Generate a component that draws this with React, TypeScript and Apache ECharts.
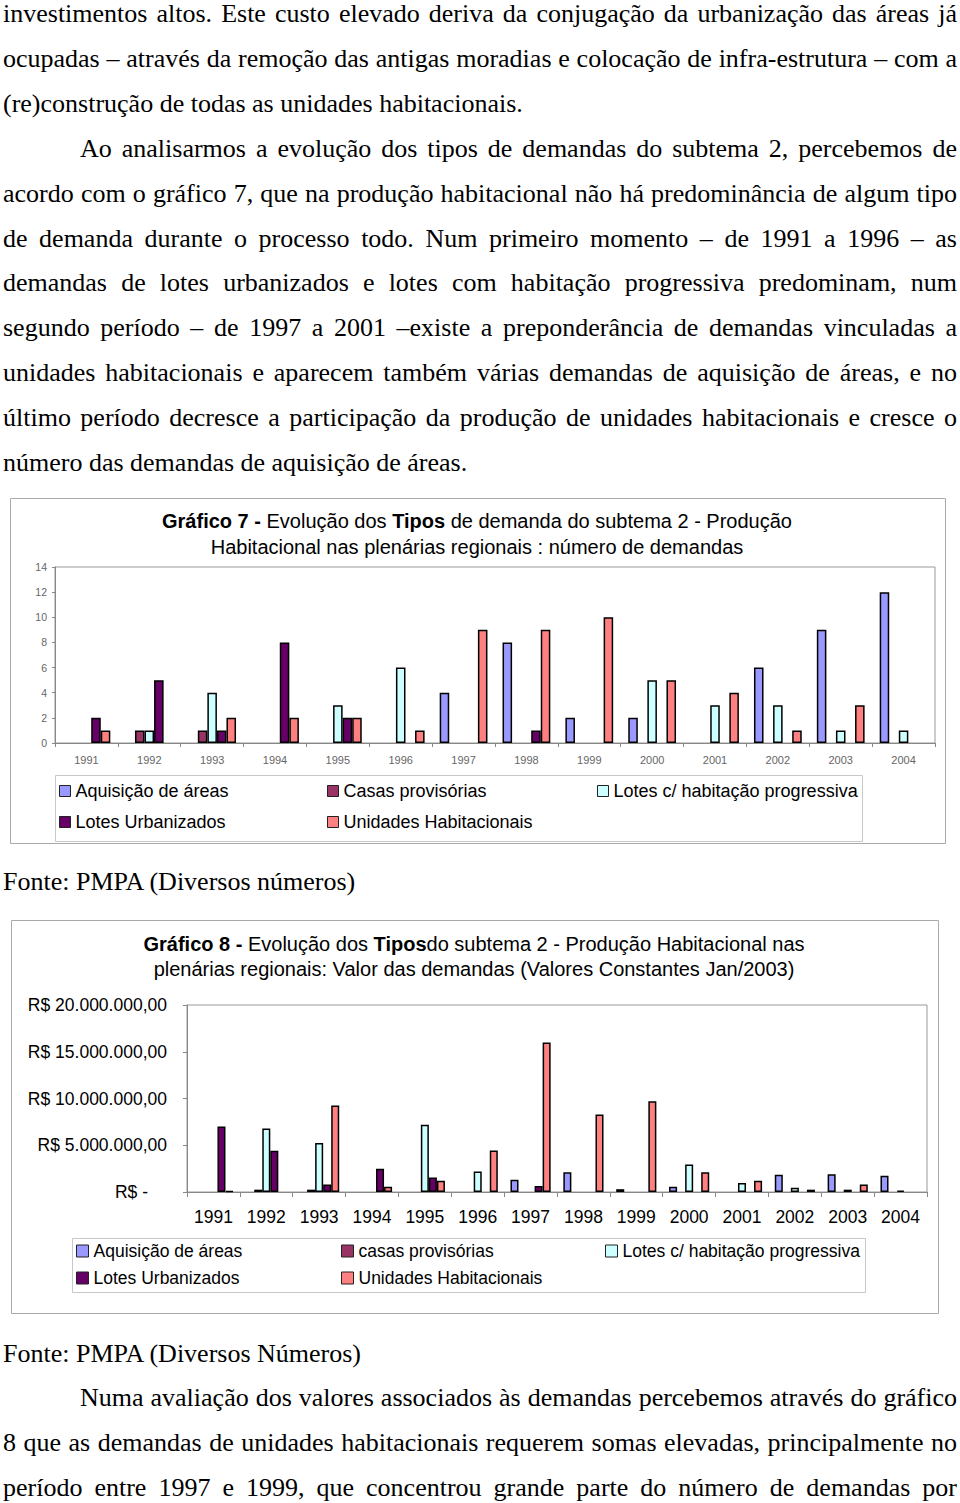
import React, { useEffect, useRef } from "react";
import * as echarts from "echarts";

// ---------- data ----------
const years = ["1991", "1992", "1993", "1994", "1995", "1996", "1997", "1998", "1999", "2000", "2001", "2002", "2003", "2004"];

const seriesNames7 = ["Aquisição de áreas", "Casas provisórias", "Lotes c/ habitação progressiva", "Lotes Urbanizados", "Unidades Habitacionais"];
const seriesNames8 = ["Aquisição de áreas", "casas provisórias", "Lotes c/ habitação progressiva", "Lotes Urbanizados", "Unidades Habitacionais"];
const seriesColors = ["#9999FF", "#993366", "#CCFFFF", "#660066", "#FF8080"];

// Gráfico 7: número de demandas
const aquisicao7 = [0, 0, 0, 0, 0, 0, 4, 8, 2, 2, 0, 6, 9, 12];
const casas7 = [0, 1, 1, 0, 0, 0, 0, 0, 0, 0, 0, 0, 0, 0];
const lotesHab7 = [0, 1, 4, 0, 3, 6, 0, 0, 0, 5, 3, 3, 1, 1];
const lotesUrb7 = [2, 5, 1, 8, 2, 0, 0, 1, 0, 0, 0, 0, 0, 0];
const unidades7 = [1, 0, 2, 2, 2, 1, 9, 9, 10, 5, 4, 1, 3, 0];
const yTicks7 = [0, 2, 4, 6, 8, 10, 12, 14];

// Gráfico 8: valor das demandas (R$)
const aquisicao8 = [0, 0, 0, 0, 0, 0, 1300000, 2100000, 300000, 550000, 0, 1850000, 1900000, 1750000];
const casas8 = [0, 250000, 250000, 0, 0, 0, 0, 0, 0, 0, 0, 0, 0, 0];
const lotesHab8 = [0, 6800000, 5250000, 0, 7200000, 2200000, 0, 0, 0, 2950000, 950000, 450000, 250000, 150000];
const lotesUrb8 = [7000000, 4400000, 800000, 2500000, 1550000, 0, 650000, 0, 0, 0, 0, 0, 0, 0];
const unidades8 = [100000, 0, 9250000, 550000, 1200000, 4450000, 16000000, 8300000, 9700000, 2100000, 1200000, 250000, 800000, 0];
const yTicks8 = [0, 5000000, 10000000, 15000000, 20000000];

// ---------- page text ----------
const textBlockA = [
  { t: "investimentos altos. Este custo elevado deriva da conjugação da urbanização das áreas já", j: true, ind: false },
  { t: "ocupadas – através da remoção das antigas moradias e colocação de infra-estrutura – com a", j: true, ind: false },
  { t: "(re)construção de todas as unidades habitacionais.", j: false, ind: false },
  { t: "Ao analisarmos a evolução dos tipos de demandas do subtema 2, percebemos de", j: true, ind: true },
  { t: "acordo com o gráfico 7, que na produção habitacional não há predominância de algum tipo", j: true, ind: false },
  { t: "de demanda durante o processo todo. Num primeiro momento – de 1991 a 1996 – as", j: true, ind: false },
  { t: "demandas de lotes urbanizados e lotes com habitação progressiva predominam, num", j: true, ind: false },
  { t: "segundo período – de 1997 a 2001 –existe a preponderância de demandas vinculadas a", j: true, ind: false },
  { t: "unidades habitacionais e aparecem também várias demandas de aquisição de áreas, e no", j: true, ind: false },
  { t: "último período decresce a participação da produção de unidades habitacionais e cresce o", j: true, ind: false },
  { t: "número das demandas de aquisição de áreas.", j: false, ind: false },
];
const fonte7 = "Fonte: PMPA (Diversos números)";
const fonte8 = "Fonte: PMPA (Diversos Números)";
const textBlockB = [
  { t: "Numa avaliação dos valores associados às demandas percebemos através do gráfico", j: true, ind: true },
  { t: "8 que as demandas de unidades habitacionais requerem somas elevadas, principalmente no", j: true, ind: false },
  { t: "período entre 1997 e 1999, que concentrou grande parte do número de demandas por", j: true, ind: false },
];

const SANS = '"Liberation Sans", Arial, sans-serif';
const SERIF = '"Liberation Serif", "Times New Roman", serif';

function makeSeries(names: string[], arrays: number[][]) {
  return names.map((name, i) => ({
    name,
    type: "bar",
    barGap: "0%",
    barCategoryGap: "24%",
    data: arrays[i].map((v) => (v === 0 ? null : v)),
    itemStyle: { color: seriesColors[i], borderColor: "#000", borderWidth: 1.5 },
    emphasis: { disabled: true },
  }));
}

function makeLegends(names: string[], xs: number[][], fontSize: number, size: number) {
  return names.map((name, i) => ({
    data: [name],
    left: xs[i][0],
    top: xs[i][1],
    padding: 0,
    icon: "rect",
    itemWidth: size,
    itemHeight: size,
    itemGap: 0,
    selectedMode: false,
    itemStyle: { borderColor: "#222", borderWidth: 1 },
    textStyle: { fontFamily: SANS, fontSize, color: "#000", padding: [0, 0, 0, 0] },
  }));
}

function fmtBRL(v: number) {
  if (v === 0) return "{z|R$ -}";
  const s = String(Math.round(v)).replace(/\B(?=(\d{3})+(?!\d))/g, ".");
  return "R$ " + s + ",00";
}

function Chart7() {
  const ref = useRef<HTMLDivElement>(null);
  useEffect(() => {
    const chart = echarts.init(ref.current!, null, { renderer: "svg" });
    chart.setOption({
      animation: false,
      backgroundColor: "#fff",
      grid: { left: 45, right: 11, top: 69, bottom: 101, show: true, borderColor: "#999", borderWidth: 1 },
      xAxis: {
        type: "category",
        data: years,
        axisLine: { lineStyle: { color: "#888" } },
        axisTick: { show: true, length: 4, lineStyle: { color: "#888" } },
        axisLabel: { fontFamily: SANS, fontSize: 11, color: "#666", margin: 11 },
      },
      yAxis: {
        type: "value",
        min: yTicks7[0],
        max: yTicks7[yTicks7.length - 1],
        interval: yTicks7[1] - yTicks7[0],
        axisLine: { show: true, lineStyle: { color: "#888" } },
        axisTick: { show: true, length: 3, lineStyle: { color: "#888" } },
        splitLine: { show: false },
        axisLabel: { fontFamily: SANS, fontSize: 10.5, color: "#666", margin: 8 },
      },
      legend: makeLegends(seriesNames7, [[49, 284], [317, 284], [587, 284], [49, 315], [317, 315]], 18, 11),
      series: makeSeries(seriesNames7, [aquisicao7, casas7, lotesHab7, lotesUrb7, unidades7]),
      graphic: [
        { type: "rect", shape: { x: 0.5, y: 0.5, width: 935, height: 345 }, style: { fill: "none", stroke: "#aaa", lineWidth: 1 }, silent: true },
        { type: "rect", shape: { x: 45.5, y: 277.5, width: 807, height: 66 }, style: { fill: "none", stroke: "#c8c8c8", lineWidth: 1 }, silent: true },
        {
          type: "text",
          x: 467,
          y: 36,
          style: {
            text: "{b|Gráfico 7 - }{n|Evolução dos }{b|Tipos}{n| de demanda do subtema 2 - Produção}\n{n|Habitacional nas plenárias regionais : número de demandas}",
            align: "center",
            verticalAlign: "middle",
            fill: "#000",
            rich: {
              b: { fontFamily: SANS, fontSize: 20, fontWeight: "bold", lineHeight: 26, fill: "#000" },
              n: { fontFamily: SANS, fontSize: 20, lineHeight: 26, fill: "#000" },
            },
          },
          silent: true,
        },
      ],
    });
    return () => chart.dispose();
  }, []);
  return <div ref={ref} style={{ position: "absolute", left: 10, top: 498, width: 936, height: 346 }} />;
}

function Chart8() {
  const ref = useRef<HTMLDivElement>(null);
  useEffect(() => {
    const chart = echarts.init(ref.current!, null, { renderer: "svg" });
    chart.setOption({
      animation: false,
      backgroundColor: "#fff",
      grid: { left: 176, right: 12, top: 85, bottom: 122, show: true, borderColor: "#999", borderWidth: 1 },
      xAxis: {
        type: "category",
        data: years,
        axisLine: { lineStyle: { color: "#888" } },
        axisTick: { show: true, length: 5, lineStyle: { color: "#888" } },
        axisLabel: { fontFamily: SANS, fontSize: 17.5, color: "#000", margin: 16 },
      },
      yAxis: {
        type: "value",
        min: yTicks8[0],
        max: yTicks8[yTicks8.length - 1],
        interval: yTicks8[1] - yTicks8[0],
        axisLine: { show: true, lineStyle: { color: "#888" } },
        axisTick: { show: true, length: 4, lineStyle: { color: "#888" } },
        splitLine: { show: false },
        axisLabel: {
          fontFamily: SANS,
          fontSize: 17.5,
          color: "#000",
          margin: 20,
          formatter: (v: number) => fmtBRL(v),
          rich: { z: { fontFamily: SANS, fontSize: 17.5, color: "#000", padding: [0, 19, 0, 0] } },
        },
      },
      legend: makeLegends(seriesNames8, [[65, 322], [330, 322], [594, 322], [65, 349], [330, 349]], 17.5, 12),
      series: makeSeries(seriesNames8, [aquisicao8, casas8, lotesHab8, lotesUrb8, unidades8]),
      graphic: [
        { type: "rect", shape: { x: 0.5, y: 0.5, width: 927, height: 393 }, style: { fill: "none", stroke: "#aaa", lineWidth: 1 }, silent: true },
        { type: "rect", shape: { x: 61.5, y: 318.5, width: 793, height: 54 }, style: { fill: "none", stroke: "#c8c8c8", lineWidth: 1 }, silent: true },
        {
          type: "text",
          x: 463,
          y: 36,
          style: {
            text: "{b|Gráfico 8 - }{n|Evolução dos }{b|Tipos}{n|do subtema 2 - Produção Habitacional nas}\n{n|plenárias regionais: Valor das demandas (Valores Constantes Jan/2003)}",
            align: "center",
            verticalAlign: "middle",
            fill: "#000",
            rich: {
              b: { fontFamily: SANS, fontSize: 20, fontWeight: "bold", lineHeight: 25, fill: "#000" },
              n: { fontFamily: SANS, fontSize: 20, lineHeight: 25, fill: "#000" },
            },
          },
          silent: true,
        },
      ],
    });
    return () => chart.dispose();
  }, []);
  return <div ref={ref} style={{ position: "absolute", left: 11, top: 920, width: 928, height: 394 }} />;
}

function Line({ t, j, ind, top }: { t: string; j: boolean; ind: boolean; top: number }) {
  const left = ind ? 80 : 3;
  return (
    <div
      style={{
        position: "absolute",
        left,
        top,
        width: 957 - left,
        height: 45,
        lineHeight: "45px",
        fontFamily: SERIF,
        fontSize: 26,
        color: "#000",
        textAlign: j ? "justify" : "left",
        textAlignLast: j ? "justify" : "left",
        whiteSpace: "nowrap",
      }}
    >
      {t}
    </div>
  );
}

export default function App() {
  const step = 44.9;
  const topA = -9;
  return (
    <div style={{ position: "absolute", left: 0, top: 0, width: 960, height: 1503, overflow: "hidden", background: "#fff" }}>
      {textBlockA.map((l, i) => (
        <Line key={"a" + i} t={l.t} j={l.j} ind={l.ind} top={topA + i * step} />
      ))}
      <Chart7 />
      <Line t={fonte7} j={false} ind={false} top={859} />
      <Chart8 />
      <Line t={fonte8} j={false} ind={false} top={1331} />
      {textBlockB.map((l, i) => (
        <Line key={"b" + i} t={l.t} j={l.j} ind={l.ind} top={1375 + i * step} />
      ))}
    </div>
  );
}
